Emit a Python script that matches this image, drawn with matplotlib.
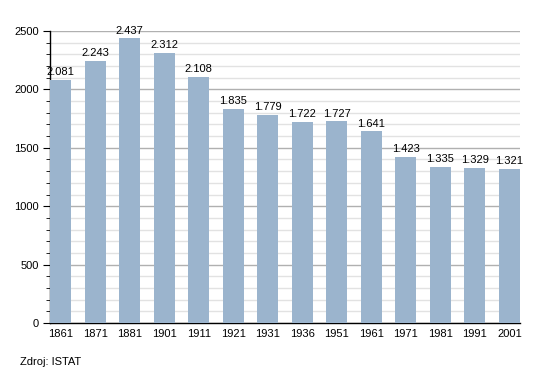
import matplotlib
matplotlib.use('Agg')
import matplotlib.pyplot as plt
from matplotlib.ticker import MultipleLocator

plt.rcParams['font.family'] = ['Liberation Sans', 'DejaVu Sans']

anni = ['1861', '1871', '1881', '1901', '1911', '1921', '1931',
        '1936', '1951', '1961', '1971', '1981', '1991', '2001']
abitanti = [2081, 2243, 2437, 2312, 2108, 1835, 1779,
            1722, 1727, 1641, 1423, 1335, 1329, 1321]

fig = plt.figure(figsize=(5.5, 3.73), dpi=100)
ax = fig.add_axes([50/550, 50/373, 470/550, 292/373])

x = list(range(len(anni)))
ax.bar(x, abitanti, width=0.61, color='#9bb4cd', zorder=3)

for xi, v in zip(x, abitanti):
    etichetta = '{:,}'.format(v).replace(',', '.')
    ax.annotate(etichetta, (xi, v), xytext=(0, 2), textcoords='offset points',
                ha='center', va='bottom', fontsize=8, zorder=4)

ax.set_xlim(-0.305, 13.305)
ax.set_ylim(0, 2500)
ax.set_xticks(x)
ax.set_xticklabels(anni)
ax.yaxis.set_major_locator(MultipleLocator(500))
ax.yaxis.set_minor_locator(MultipleLocator(100))
ax.grid(axis='y', which='major', color='#b0b0b0', linewidth=1, zorder=0)
ax.grid(axis='y', which='minor', color='#e2e2e2', linewidth=1, zorder=0)
ax.tick_params(axis='x', length=0, labelsize=8, pad=4)
ax.tick_params(axis='y', which='major', length=5, labelsize=8, pad=3)
ax.tick_params(axis='y', which='minor', length=3)
ax.spines['top'].set_visible(False)
ax.spines['right'].set_visible(False)
ax.spines['left'].set_linewidth(1)
ax.spines['bottom'].set_linewidth(1)

fig.text(20/550, 1 - 362/373, 'Zdroj: ISTAT', fontsize=8, va='center', ha='left')

plt.savefig('out.png', dpi=100)
